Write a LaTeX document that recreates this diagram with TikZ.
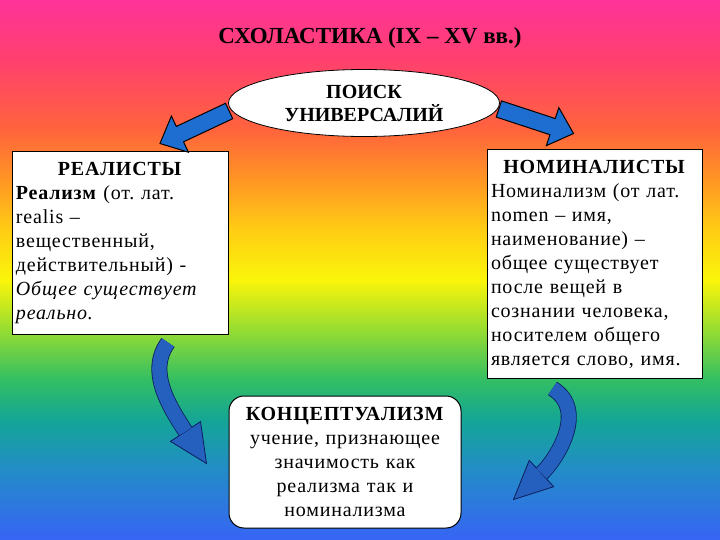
\documentclass[tikz,border=0pt]{standalone}
\usepackage{fontspec}
\setmainfont{Liberation Serif}
\usetikzlibrary{calc,shapes.geometric}

\definecolor{c0}{RGB}{255,51,153}
\definecolor{c60}{RGB}{255,64,110}
\definecolor{c130}{RGB}{255,100,60}
\definecolor{c180}{RGB}{255,150,35}
\definecolor{c230}{RGB}{255,205,20}
\definecolor{c280}{RGB}{250,245,10}
\definecolor{c330}{RGB}{150,220,50}
\definecolor{c380}{RGB}{50,190,100}
\definecolor{c420}{RGB}{20,165,150}
\definecolor{c470}{RGB}{35,140,200}
\definecolor{c540}{RGB}{55,100,245}
\definecolor{arrowblue}{RGB}{30,110,210}
\definecolor{curveblue}{RGB}{38,96,190}
\definecolor{curveline}{RGB}{10,30,90}

\pgfdeclareverticalshading{rainbow}{100bp}{color(0bp)=(c540); color(25bp)=(c540);
  color(31.48bp)=(c470); color(36.11bp)=(c420); color(39.81bp)=(c380);
  color(44.44bp)=(c330); color(49.07bp)=(c280); color(53.70bp)=(c230);
  color(58.33bp)=(c180); color(62.96bp)=(c130); color(69.44bp)=(c60);
  color(75bp)=(c0); color(100bp)=(c0)}

% прямая стрелка: хвост #1, острие #2
\newcommand{\blockarrow}[2]{%
  \coordinate (hb) at ($(#2)!22pt!(#1)$);
  \filldraw[fill=arrowblue, draw=black, line width=1pt]
    ($(#1)!8.5pt!90:(#2)$) -- ($(hb)!8.5pt!90:(#2)$) -- ($(hb)!20pt!90:(#2)$)
    -- (#2) -- ($(hb)!20pt!-90:(#2)$) -- ($(hb)!8.5pt!-90:(#2)$)
    -- ($(#1)!8.5pt!-90:(#2)$) -- cycle;}

% изогнутая стрелка: начало #1, опоры #2 и #3, основание #4, острие #5
\newcommand{\bentarrow}[5]{%
  \draw[curveline, line width=16pt] (#1) .. controls #2 and #3 .. (#4);
  \filldraw[fill=curveblue, draw=curveline, line width=0.8pt]
    ($(#4)!18pt!90:(#5)$) -- (#5) -- ($(#4)!18pt!-90:(#5)$) -- cycle;
  \draw[curveblue, line width=14.4pt] (#1) .. controls #2 and #3 .. (#4);}

\begin{document}
\frenchspacing
\begin{tikzpicture}[x=1pt, y=-1pt]
    \tikzset{
      box/.style={rectangle, draw, line width=1pt, fill=white, inner sep=4pt,
                  font=\fontsize{20}{24}\selectfont\addfontfeatures{LetterSpace=4}},
      oval/.style={ellipse, draw, line width=0.8pt, fill=white, inner sep=0pt,
                   minimum width=271pt, minimum height=67pt, align=center,
                   font=\fontsize{20}{23}\selectfont\bfseries}
    }

    \useasboundingbox (0,0) rectangle (720,540);
    \shade[shading=rainbow] (0,0) rectangle (720,540);

    \node[font=\fontsize{23}{27}\selectfont\bfseries] (title) at (370,38)
      {СХОЛАСТИКА (IX – XV вв.)};
    \node[oval] (search) at (364,103) {ПОИСК\\УНИВЕРСАЛИЙ};

    \node[box, text width=208pt, minimum height=182pt] (realist) at (120,243)
      {{\centering\textbf{РЕАЛИСТЫ}\par}\raggedright
       \textbf{Реализм} (от. лат.\\ realis –\\ вещественный,\\
       действительный) -\\ \textit{Общее существует}\\ \textit{реально.}};
    \node[box, text width=207pt, minimum height=228pt] (nominal) at (594.5,264)
      {{\centering\textbf{НОМИНАЛИСТЫ}\par}\raggedright
       Номинализм (от лат.\\ nomen – имя,\\ наименование) –\\ общее существует\\
       после вещей в\\ сознании человека,\\ носителем общего\\ является слово, имя.};
    \node[box, rounded corners=15pt, text width=224pt, align=center,
          minimum height=132pt] (concept) at (345,462)
      {\textbf{КОНЦЕПТУАЛИЗМ}\\ учение, признающее\\ значимость как\\
       реализма так и\\ номинализма};

    % стрелки от овала
    \coordinate (ltail) at ($(search.west)+(1,8)$);
    \coordinate (ltip) at ($(realist.north)+(40,-8)$);
    \coordinate (rtail) at ($(search.east)+(-1,6)$);
    \coordinate (rtip) at ($(nominal.north)+(-21,-16)$);
    \blockarrow{ltail}{ltip}
    \blockarrow{rtail}{rtip}

    % изогнутые стрелки к концептуализму
    \coordinate (lstart) at ($(realist.south)+(48,8)$);
    \coordinate (lbase) at ($(concept.north west)+(-43,36)$);
    \coordinate (lend) at ($(concept.north west)+(-22,68)$);
    \bentarrow{lstart}{+(-22,30)}{+(-14,-22)}{lbase}{lend}
    \coordinate (rstart) at ($(nominal.south)+(-42,10)$);
    \coordinate (rbase) at ($(concept.north east)+(80,78)$);
    \coordinate (rend) at ($(concept.north east)+(52,104)$);
    \bentarrow{rstart}{+(36,22)}{+(14,-13)}{rbase}{rend}
  \end{tikzpicture}
\end{document}
